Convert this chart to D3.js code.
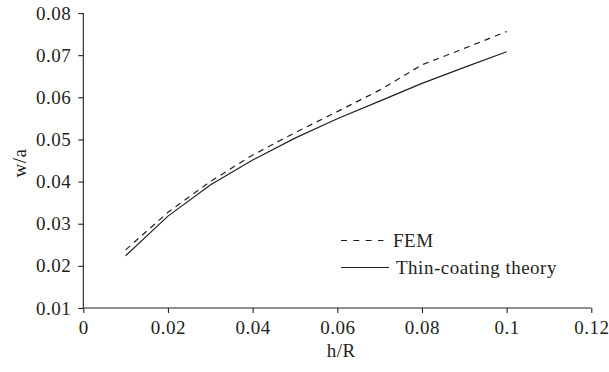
<!DOCTYPE html>
<html>
<head>
<meta charset="utf-8">
<script src="https://cdn.jsdelivr.net/npm/d3@7/dist/d3.min.js"></script>
<style>
  html, body { margin: 0; padding: 0; background: #fff; }
  svg { display: block; }
  text { font-family: "Liberation Serif", "DejaVu Serif", serif; fill: #231f20; }
</style>
</head>
<body>
<svg id="chart" width="609" height="372"></svg>
<script>
// h/R values
const hR = [0.01, 0.02, 0.03, 0.04, 0.05, 0.06, 0.07, 0.08, 0.09, 0.1];
// w/a from finite element model
const fem = [0.0238, 0.0327, 0.0400, 0.0463, 0.0516, 0.0566, 0.0617, 0.0677, 0.0716, 0.0756];
// w/a from thin-coating theory
const thinCoating = [0.0224, 0.0318, 0.0392, 0.0451, 0.0503, 0.0549, 0.0591, 0.0633, 0.0671, 0.0708];

const xTicks = [0, 0.02, 0.04, 0.06, 0.08, 0.1, 0.12];
const yTicks = [0.01, 0.02, 0.03, 0.04, 0.05, 0.06, 0.07, 0.08];
const seriesNames = ["FEM", "Thin-coating theory"];

const svg = d3.select("#chart");
const margin = { left: 83.3, top: 13, right: 17.7, bottom: 64 };
const W = 609, H = 372;
const fontSize = "19px";
const spacing = "0.5px";

const x = d3.scaleLinear().domain([0, 0.12]).range([margin.left, W - margin.right]);
const y = d3.scaleLinear().domain([0.01, 0.08]).range([H - margin.bottom, margin.top]);

const ink = "#231f20";

// axes
const xAxis = svg.append("g")
  .attr("transform", `translate(0,${H - margin.bottom})`)
  .call(d3.axisBottom(x).tickValues(xTicks).tickSize(5).tickPadding(8)
    .tickFormat(d => d === 0 ? "0" : String(+d.toFixed(2))));
const yAxis = svg.append("g")
  .attr("transform", `translate(${margin.left},0)`)
  .call(d3.axisLeft(y).tickValues(yTicks).tickSize(5).tickPadding(7)
    .tickFormat(d => d.toFixed(2)));

[xAxis, yAxis].forEach(g => {
  g.selectAll("path.domain").attr("stroke", ink).attr("stroke-width", 1.1);
  g.selectAll(".tick line").attr("stroke", ink).attr("stroke-width", 1.1);
  g.selectAll(".tick text")
    .style("font-size", fontSize)
    .style("letter-spacing", spacing)
    .style("font-family", "'Liberation Serif', serif")
    .attr("fill", ink);
});
// plain axis lines without end caps
xAxis.select("path.domain").attr("d", `M${x(0)},0H${x(0.12)}`);
yAxis.select("path.domain").attr("d", `M0,${y(0.08)}V${y(0.01)}`);

// axis titles
svg.append("text")
  .attr("x", (x(0) + x(0.12)) / 2 + 4)
  .attr("y", 357)
  .attr("text-anchor", "middle")
  .style("font-size", fontSize)
  .style("letter-spacing", spacing)
  .text("h/R");

svg.append("text")
  .attr("transform", `translate(26,163) rotate(-90)`)
  .attr("text-anchor", "middle")
  .style("font-size", fontSize)
  .style("letter-spacing", spacing)
  .text("w/a");

// series lines
const line = d3.line().x((d, i) => x(hR[i])).y(d => y(d));

svg.append("path")
  .datum(fem)
  .attr("d", line)
  .attr("fill", "none")
  .attr("stroke", ink)
  .attr("stroke-width", 1.2)
  .attr("stroke-dasharray", "6,5");

svg.append("path")
  .datum(thinCoating)
  .attr("d", line)
  .attr("fill", "none")
  .attr("stroke", ink)
  .attr("stroke-width", 1.2);

// legend
const legend = svg.append("g");
const legendRows = [
  { name: seriesNames[0], dash: "6,6.3", y: 240.5 },
  { name: seriesNames[1], dash: null, y: 267.5 }
];
legendRows.forEach(r => {
  legend.append("line")
    .attr("x1", 341).attr("x2", r.dash ? 383.5 : 389)
    .attr("y1", r.y).attr("y2", r.y)
    .attr("stroke", ink).attr("stroke-width", 1.2)
    .attr("stroke-dasharray", r.dash);
  legend.append("text")
    .attr("x", r.dash ? 393 : 396)
    .attr("y", r.y + 6.5)
    .style("font-size", fontSize)
    .style("letter-spacing", spacing)
    .text(r.name);
});
</script>
</body>
</html>
